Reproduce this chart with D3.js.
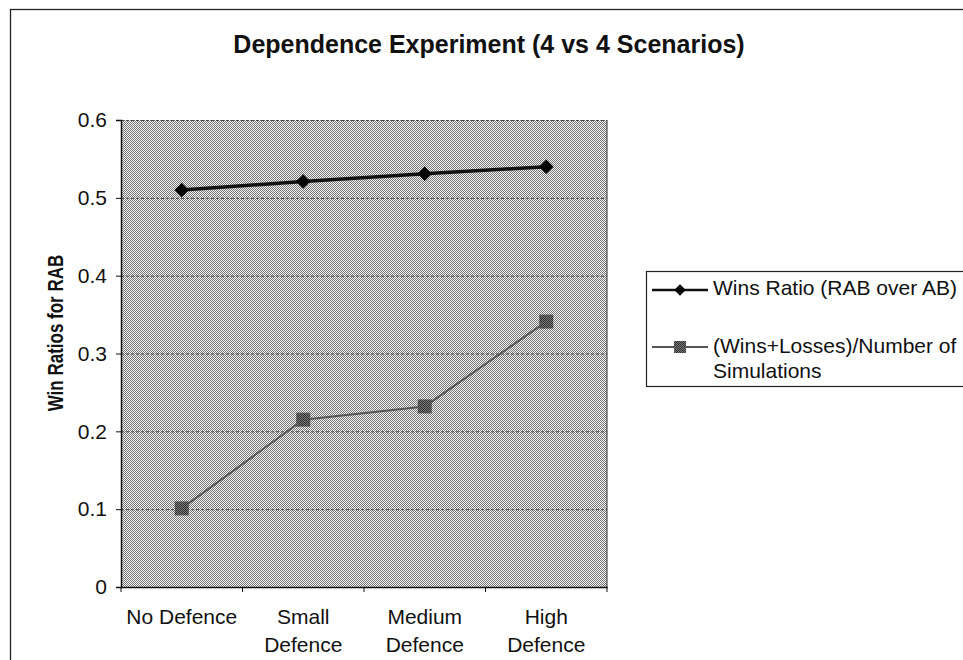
<!DOCTYPE html>
<html><head><meta charset="utf-8">
<script src="https://cdn.jsdelivr.net/npm/d3@7"></script>
<style>body{margin:0;background:#fff;} svg{display:block;font-family:"Liberation Sans",Arial,sans-serif;}</style>
</head><body>
<svg id="c" width="963" height="660"></svg>
<script>
const categories = [["No Defence"], ["Small", "Defence"], ["Medium", "Defence"], ["High", "Defence"]];
const catKeys = ["No Defence", "Small Defence", "Medium Defence", "High Defence"];
const winsRatio = [0.51, 0.521, 0.531, 0.54];
const winsLosses = [0.101, 0.215, 0.232, 0.341];
const yTicks = [0, 0.1, 0.2, 0.3, 0.4, 0.5, 0.6];
const seriesNames = ["Wins Ratio (RAB over AB)", ["(Wins+Losses)/Number of", "Simulations"]];

const svg = d3.select("#c");
const defs = svg.append("defs");
const pat = defs.append("pattern").attr("id","dither").attr("width",2).attr("height",2).attr("patternUnits","userSpaceOnUse");
pat.append("rect").attr("width",2).attr("height",2).attr("fill","#f4f4f4");
pat.append("rect").attr("x",0).attr("y",0).attr("width",1).attr("height",1).attr("fill","#777");
pat.append("rect").attr("x",1).attr("y",1).attr("width",1).attr("height",1).attr("fill","#777");
const pat2 = defs.append("pattern").attr("id","dither2").attr("width",2).attr("height",2).attr("patternUnits","userSpaceOnUse");
pat2.append("rect").attr("width",2).attr("height",2).attr("fill","#777");
pat2.append("rect").attr("x",0).attr("y",0).attr("width",1).attr("height",1).attr("fill","#333");
pat2.append("rect").attr("x",1).attr("y",1).attr("width",1).attr("height",1).attr("fill","#333");

// outer border
svg.append("rect").attr("x",10.5).attr("y",9.5).attr("width",1000).attr("height",700)
  .attr("fill","none").attr("stroke","#222").attr("stroke-width",1.3);

const L=121, R=607, T=120, B=587;
const x = d3.scaleBand().domain(catKeys).range([L,R]);
const y = d3.scaleLinear().domain([0,0.6]).range([B,T]);

svg.append("rect").attr("x",L).attr("y",T).attr("width",R-L).attr("height",B-T).attr("fill","url(#dither)");

// gridlines
svg.append("g").selectAll("line").data(yTicks.filter(d=>d>0)).join("line")
  .attr("x1",L).attr("x2",R).attr("y1",d=>y(d)+0.5).attr("y2",d=>y(d)+0.5)
  .attr("stroke","#444").attr("stroke-width",1).attr("stroke-dasharray","3,2");

// plot frame
svg.append("line").attr("x1",R).attr("x2",R).attr("y1",T).attr("y2",B).attr("stroke","#333");

// y axis
const yAx = svg.append("g").attr("transform",`translate(${L},0)`)
  .call(d3.axisLeft(y).tickValues(yTicks).tickFormat(d=>d===0?"0":d3.format(".1f")(d)).tickSize(5).tickPadding(9));
yAx.attr("font-size",null).attr("font-family",null);
yAx.select(".domain").attr("stroke","#111").attr("stroke-width",1.5);
yAx.selectAll(".tick line").attr("stroke","#111");
yAx.selectAll(".tick text").attr("font-size",21).attr("fill","#111");

// x axis
const xAx = svg.append("g").attr("transform",`translate(0,${B})`)
  .call(d3.axisBottom(x).tickSize(0).tickFormat(""));
xAx.select(".domain").attr("stroke","#111").attr("stroke-width",1.5);
xAx.selectAll(".tick").remove();
const bounds = catKeys.map(c=>x(c)).concat([R]);
svg.append("g").selectAll("line").data(bounds).join("line")
  .attr("x1",d=>d).attr("x2",d=>d).attr("y1",B).attr("y2",B+5).attr("stroke","#111");
const xl = svg.append("g").selectAll("text").data(catKeys).join("text")
  .attr("x",d=>x(d)+x.bandwidth()/2).attr("y",624).attr("text-anchor","middle")
  .attr("font-size",21).attr("fill","#111");
xl.each(function(d,i){
  const t=d3.select(this);
  categories[i].forEach((s,j)=>t.append("tspan").attr("x",x(d)+x.bandwidth()/2).attr("dy",j===0?0:27.7).text(s));
});

// title
svg.append("text").attr("x",489).attr("y",53).attr("text-anchor","middle")
  .attr("font-size",25).attr("font-weight","bold").attr("fill","#111")
  .text("Dependence Experiment (4 vs 4 Scenarios)");

// y label
svg.append("text").attr("transform","translate(63,333) scale(1.25,1) rotate(-90)").attr("text-anchor","middle")
  .attr("font-size",17).attr("font-weight","bold").attr("fill","#111").text("Win Ratios for RAB");

const cx = d=>x(d)+x.bandwidth()/2;
const line = d3.line().x((d,i)=>cx(catKeys[i])).y(d=>y(d));

// series 2
svg.append("path").datum(winsLosses).attr("d",line).attr("fill","none").attr("stroke","#555").attr("stroke-width",2);
svg.append("g").selectAll("rect").data(winsLosses).join("rect")
  .attr("x",(d,i)=>cx(catKeys[i])-7).attr("y",d=>y(d)-7).attr("width",14).attr("height",14)
  .attr("fill","url(#dither2)");

// series 1
svg.append("path").datum(winsRatio).attr("d",line).attr("fill","none").attr("stroke","#111").attr("stroke-width",3.5);
const diamond = d3.symbol().type(d3.symbolDiamond2).size(135);
svg.append("g").selectAll("path").data(winsRatio).join("path")
  .attr("transform",(d,i)=>`translate(${cx(catKeys[i])},${y(d)})`).attr("d",diamond).attr("fill","#000");

// legend
svg.append("rect").attr("x",646.5).attr("y",271.5).attr("width",400).attr("height",115)
  .attr("fill","#fff").attr("stroke","#222").attr("stroke-width",1.2);
const lg = svg.append("g");
lg.append("line").attr("x1",652).attr("x2",708).attr("y1",290).attr("y2",290).attr("stroke","#111").attr("stroke-width",2.5);
lg.append("path").attr("transform","translate(680,290)").attr("d",d3.symbol().type(d3.symbolDiamond2).size(85)).attr("fill","#000");
lg.append("text").attr("x",713).attr("y",295).attr("font-size",21).attr("fill","#111").text(seriesNames[0]);
lg.append("line").attr("x1",652).attr("x2",708).attr("y1",347).attr("y2",347).attr("stroke","#555").attr("stroke-width",2);
lg.append("rect").attr("x",674).attr("y",341).attr("width",12).attr("height",12).attr("fill","url(#dither2)");
const t2 = lg.append("text").attr("x",713).attr("y",353).attr("font-size",21).attr("fill","#111");
seriesNames[1].forEach((s,j)=>t2.append("tspan").attr("x",713).attr("dy",j===0?0:25).text(s));
</script>
</body></html>
